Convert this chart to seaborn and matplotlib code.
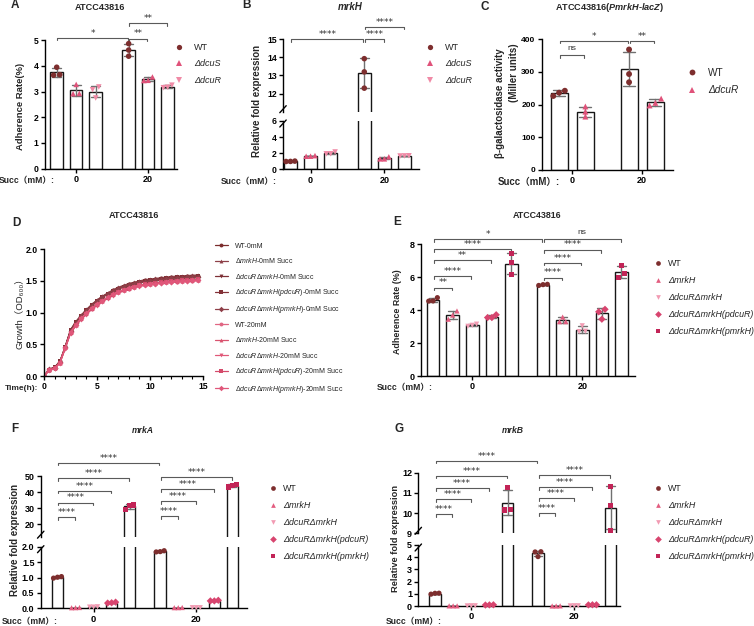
import numpy as np
import pandas as pd
import matplotlib
matplotlib.use("Agg")
import matplotlib.pyplot as plt
from matplotlib.lines import Line2D
from matplotlib.ticker import MultipleLocator
from matplotlib.transforms import blended_transform_factory
import seaborn as sns

sns.set_theme(style="ticks")
plt.rcParams["font.family"] = ["Liberation Sans", "Noto Sans CJK SC", "DejaVu Sans"]
plt.rcParams["mathtext.fontset"] = "custom"
plt.rcParams["mathtext.rm"] = "Liberation Sans"
plt.rcParams["mathtext.it"] = "Liberation Sans:italic"
plt.rcParams["mathtext.bf"] = "Liberation Sans:bold"
try:
    plt.rcParams["mathtext.bfit"] = "Liberation Sans:bold:italic"
    BFIT = True
except KeyError:
    BFIT = False

# ---------------------------------------------------------------- data
succ_levels = ["0", "20"]

# Panel A  (three replicates at 0 mM, then three at 20 mM)
strains_A = ["WT", "ΔdcuS", "ΔdcuR"]
A_WT = [3.66, 3.95, 3.64, 4.62, 4.87, 4.38]
A_dcuS = [2.92, 3.28, 2.93, 3.44, 3.57, 3.43]
A_dcuR = [3.18, 2.75, 3.07, 3.17, 3.25, 3.15]

# Panel B  (mrkH relative expression)
strains_B = ["WT", "ΔdcuS", "ΔdcuR"]
B_WT = [0.98, 1.02, 0.97, 13.20, 13.93, 12.30]
B_dcuS = [1.62, 1.70, 1.63, 1.30, 1.55, 1.30]
B_dcuR = [1.92, 2.15, 1.93, 1.65, 1.68, 1.66]

# Panel C  (beta-galactosidase, Miller units)
strains_C = ["WT", "ΔdcuR"]
C_WT = [242.0, 226.0, 236.0, 293.0, 368.0, 268.0]
C_dcuR = [178.0, 194.0, 163.0, 197.0, 218.0, 205.0]

# Panel D  (growth curves, OD600)
time_h = [0, 0.5, 1, 1.5, 2, 2.5, 3, 3.5, 4, 4.5, 5, 5.5, 6, 6.5, 7, 7.5,
          8, 8.5, 9, 9.5, 10, 10.5, 11, 11.5, 12, 12.5, 13, 13.5, 14, 14.5]
D_WT_0 = [0.00, 0.10, 0.13, 0.22, 0.46, 0.72, 0.85, 0.95, 1.04, 1.12, 1.19, 1.25, 1.30, 1.35, 1.39,
          1.42, 1.45, 1.47, 1.49, 1.51, 1.52, 1.53, 1.54, 1.55, 1.56, 1.565, 1.57, 1.575, 1.58, 1.585]
D_mrkH_0 = [0.00, 0.11, 0.14, 0.23, 0.47, 0.73, 0.86, 0.96, 1.05, 1.13, 1.20, 1.26, 1.31, 1.36, 1.40,
            1.43, 1.46, 1.48, 1.50, 1.52, 1.53, 1.54, 1.55, 1.56, 1.57, 1.575, 1.58, 1.585, 1.59, 1.595]
D_dm_0 = [0.00, 0.10, 0.13, 0.22, 0.45, 0.71, 0.84, 0.94, 1.03, 1.11, 1.18, 1.24, 1.29, 1.33, 1.37,
          1.40, 1.43, 1.45, 1.47, 1.48, 1.49, 1.50, 1.51, 1.52, 1.525, 1.53, 1.535, 1.54, 1.545, 1.55]
D_pdcuR_0 = [0.00, 0.10, 0.14, 0.23, 0.46, 0.72, 0.85, 0.95, 1.04, 1.12, 1.19, 1.25, 1.30, 1.34, 1.38,
             1.41, 1.44, 1.46, 1.48, 1.50, 1.51, 1.52, 1.53, 1.54, 1.55, 1.555, 1.56, 1.565, 1.57, 1.575]
D_pmrkH_0 = [0.00, 0.11, 0.13, 0.22, 0.45, 0.71, 0.84, 0.94, 1.03, 1.11, 1.18, 1.24, 1.29, 1.34, 1.38,
             1.41, 1.44, 1.46, 1.48, 1.49, 1.50, 1.51, 1.52, 1.53, 1.54, 1.545, 1.55, 1.555, 1.56, 1.565]
D_WT_20 = [0.00, 0.09, 0.12, 0.21, 0.44, 0.68, 0.80, 0.90, 0.98, 1.06, 1.12, 1.18, 1.23, 1.28, 1.32,
           1.35, 1.38, 1.40, 1.42, 1.44, 1.45, 1.46, 1.47, 1.48, 1.485, 1.49, 1.495, 1.50, 1.505, 1.51]
D_mrkH_20 = [0.00, 0.10, 0.12, 0.21, 0.45, 0.69, 0.81, 0.91, 0.99, 1.07, 1.13, 1.19, 1.24, 1.29, 1.33,
             1.36, 1.39, 1.41, 1.43, 1.45, 1.46, 1.47, 1.48, 1.49, 1.495, 1.50, 1.505, 1.51, 1.515, 1.52]
D_dm_20 = [0.00, 0.09, 0.12, 0.20, 0.43, 0.67, 0.79, 0.89, 0.97, 1.05, 1.11, 1.17, 1.22, 1.27, 1.31,
           1.34, 1.37, 1.39, 1.41, 1.43, 1.44, 1.45, 1.46, 1.47, 1.475, 1.48, 1.485, 1.49, 1.495, 1.50]
D_pdcuR_20 = [0.00, 0.10, 0.13, 0.21, 0.44, 0.68, 0.80, 0.90, 0.98, 1.06, 1.12, 1.18, 1.23, 1.28, 1.32,
              1.35, 1.38, 1.41, 1.43, 1.45, 1.46, 1.47, 1.48, 1.49, 1.50, 1.505, 1.51, 1.515, 1.52, 1.525]
D_pmrkH_20 = [0.00, 0.09, 0.12, 0.21, 0.44, 0.69, 0.81, 0.91, 0.99, 1.07, 1.13, 1.19, 1.24, 1.29, 1.33,
              1.36, 1.39, 1.41, 1.43, 1.44, 1.45, 1.46, 1.47, 1.48, 1.49, 1.495, 1.50, 1.505, 1.51, 1.515]
D_series = ["WT-0mM", "ΔmrkH-0mM", "ΔdcuRΔmrkH-0mM", "ΔdcuRΔmrkH(pdcuR)-0mM", "ΔdcuRΔmrkH(pmrkH)-0mM",
            "WT-20mM", "ΔmrkH-20mM", "ΔdcuRΔmrkH-20mM", "ΔdcuRΔmrkH(pdcuR)-20mM", "ΔdcuRΔmrkH(pmrkH)-20mM"]
D_values = [D_WT_0, D_mrkH_0, D_dm_0, D_pdcuR_0, D_pmrkH_0,
            D_WT_20, D_mrkH_20, D_dm_20, D_pdcuR_20, D_pmrkH_20]
D_labels = ["WT-0mM",
            r"$\mathit{\Delta mrkH}$-0mM Succ",
            r"$\mathit{\Delta dcuR\Delta mrkH}$-0mM Succ",
            r"$\mathit{\Delta dcuR\Delta mrkH(pdcuR)}$-0mM Succ",
            r"$\mathit{\Delta dcuR\Delta mrkH(pmrkH)}$-0mM Succ",
            "WT-20mM",
            r"$\mathit{\Delta mrkH}$-20mM Succ",
            r"$\mathit{\Delta dcuR\Delta mrkH}$-20mM Succ",
            r"$\mathit{\Delta dcuR\Delta mrkH(pdcuR)}$-20mM Succ",
            r"$\mathit{\Delta dcuR\Delta mrkH(pmrkH)}$-20mM Succ"]

# Panels E, F, G
strains_E = ["WT", "ΔmrkH", "ΔdcuRΔmrkH", "ΔdcuRΔmrkH(pdcuR)", "ΔdcuRΔmrkH(pmrkH)"]
E_WT = [4.55, 4.76, 4.56, 5.50, 5.55, 5.57]
E_mrkH = [3.45, 3.95, 3.70, 3.30, 3.58, 3.30]
E_dm = [3.02, 3.15, 3.08, 2.72, 3.05, 2.70]
E_pdcuR = [3.55, 3.72, 3.55, 3.45, 4.05, 3.90]
E_pmrkH = [6.15, 7.45, 6.90, 6.00, 6.70, 6.25]

F_WT = [0.98, 1.03, 1.01, 1.83, 1.87, 1.84]
F_mrkH = [0.02, 0.025, 0.018, 0.02, 0.02, 0.025]
F_dm = [0.04, 0.05, 0.04, 0.02, 0.02, 0.02]
F_pdcuR = [0.17, 0.20, 0.18, 0.24, 0.26, 0.24]
F_pmrkH = [32.0, 29.4, 31.9, 43.2, 44.8, 44.0]

G_WT = [0.97, 1.05, 1.04, 4.45, 4.05, 4.43]
G_mrkH = [0.01, 0.01, 0.01, 0.00, 0.01, 0.00]
G_dm = [0.02, 0.01, 0.02, 0.02, 0.01, 0.02]
G_pdcuR = [0.08, 0.10, 0.09, 0.09, 0.10, 0.10]
G_pmrkH = [10.15, 11.25, 10.17, 10.37, 11.30, 9.15]

# ---------------------------------------------------------------- styles
COL_WT = "#7d2e2e"
pal_AB = {"WT": COL_WT, "ΔdcuS": "#e0527a", "ΔdcuR": "#f08aa6"}
mk_AB = {"WT": "o", "ΔdcuS": "^", "ΔdcuR": "v"}
pal_C = {"WT": COL_WT, "ΔdcuR": "#e0527a"}
mk_C = {"WT": "o", "ΔdcuR": "^"}
pal_E = {"WT": COL_WT, "ΔmrkH": "#e35d80", "ΔdcuRΔmrkH": "#f29bb3",
         "ΔdcuRΔmrkH(pdcuR)": "#d8456f", "ΔdcuRΔmrkH(pmrkH)": "#c22457"}
mk_E = {"WT": "o", "ΔmrkH": "^", "ΔdcuRΔmrkH": "v",
        "ΔdcuRΔmrkH(pdcuR)": "D", "ΔdcuRΔmrkH(pmrkH)": "s"}
pal_D = dict(zip(D_series, ["#7b2c2c", "#8e4048", "#7d2f35", "#833238", "#8e3f48",
                            "#e06683", "#d9536f", "#e05878", "#d44a6a", "#e0577a"]))
mk_D = dict(zip(D_series, ["o", "^", "v", "s", "D", "o", "^", "v", "s", "D"]))

SPREAD = {1: [0.0], 2: [-0.16, 0.16], 3: [-0.22, 0.0, 0.22]}
W, H = 754, 626
fig = plt.figure(figsize=(W / 100, H / 100), dpi=100)


def fx(x):
    return x / W


def fy(y):
    return 1 - y / H


def add_ax(x0, y0, x1, y1):
    return fig.add_axes([x0 / W, 1 - y1 / H, (x1 - x0) / W, (y1 - y0) / H])


def ftext(x, y, s, **kw):
    kw.setdefault("ha", "center")
    kw.setdefault("va", "center")
    return fig.text(fx(x), fy(y), s, **kw)


def long_df(strains, table, stride):
    rows = []
    for si, st in enumerate(strains):
        vals = table[si]
        for gi, g in enumerate(succ_levels):
            for r in range(3):
                rows.append(dict(strain=st, succ=g, rep=r, value=float(vals[gi * 3 + r]),
                                 pos=float(gi * stride + si)))
    df = pd.DataFrame(rows)
    df["pos"] = df["pos"].astype(float)
    df["value"] = df["value"].astype(float)
    return df


def swarm_x(df, ppu, thr=4.5):
    """Spread replicate points sideways only where they would overlap."""
    xj = pd.Series(df["pos"].values.copy(), index=df.index, dtype=float)
    for pos, grp in df.groupby("pos"):
        idx = list(grp.index)
        vals = grp["value"].values
        order = list(np.argsort(vals))
        clusters = [[order[0]]]
        for o in order[1:]:
            if (vals[o] - vals[clusters[-1][-1]]) * ppu < thr:
                clusters[-1].append(o)
            else:
                clusters.append([o])
        for c in clusters:
            offs = SPREAD[len(c)]
            for j, o in enumerate(c):
                xj[idx[o]] = pos + offs[j]
    return xj


def style_axes(ax, tick_fs):
    for sp in ["top", "right"]:
        ax.spines[sp].set_visible(False)
    for sp in ["left", "bottom"]:
        ax.spines[sp].set_linewidth(1.0)
        ax.spines[sp].set_color("black")
    ax.tick_params(axis="both", direction="out", length=3, width=1.0, color="black",
                   pad=1.5, labelsize=tick_fs, labelcolor="black")
    for t in ax.get_xticklabels() + ax.get_yticklabels():
        t.set_fontweight("bold")
    ax.set_xlabel("")
    ax.set_ylabel("")
    ax.patch.set_alpha(0)


def bar_panel(df, parts, xlim, stride, n, palette, markers, s, width, tick_fs, xt_fs):
    axes = []
    for k, (rect, ylim, yticks, ylabels) in enumerate(parts):
        ax = add_ax(*rect)
        sns.barplot(data=df, x="pos", y="value", native_scale=True, orient="x",
                    errorbar="sd", width=width, color="white", capsize=0.45,
                    err_kws={"color": "#707070", "linewidth": 1.0}, ax=ax)
        for p in ax.patches:
            p.set_edgecolor("#161616")
            p.set_linewidth(1.0)
            p.set_facecolor("white")
        ppu = (rect[3] - rect[1]) / (ylim[1] - ylim[0])
        pts = df.copy()
        pts["xj"] = swarm_x(pts, ppu)
        sub = pts[(pts["value"] >= ylim[0]) & (pts["value"] <= ylim[1])]
        sns.scatterplot(data=sub, x="xj", y="value", hue="strain", style="strain",
                        palette=palette, markers=markers, s=s, linewidth=0,
                        legend=False, ax=ax, zorder=5, clip_on=False)
        ax.set_xlim(*xlim)
        ax.set_ylim(*ylim)
        ax.set_yticks(yticks)
        ax.set_yticklabels(ylabels)
        last = k == len(parts) - 1
        if last:
            ax.set_xticks([(n - 1) / 2, stride + (n - 1) / 2])
            ax.set_xticklabels(succ_levels)
        else:
            ax.spines["bottom"].set_visible(False)
            ax.tick_params(axis="x", bottom=False, labelbottom=False)
        style_axes(ax, tick_fs)
        if last:
            for t in ax.get_xticklabels():
                t.set_fontsize(xt_fs)
        axes.append(ax)
    return axes


def break_marks(xpx, y_up, y_low):
    for yc in (y_up - 2.5, y_low + 2.5):
        fig.add_artist(Line2D([fx(xpx - 3.2), fx(xpx + 3.2)], [fy(yc + 3.5), fy(yc - 3.5)],
                              transform=fig.transFigure, color="black", lw=1.0))


def bracket(ax, x1, x2, yline, ytext, label, fs=6.5):
    tr = blended_transform_factory(ax.transData, fig.transFigure)
    ax.plot([x1, x1, x2, x2], [fy(yline + 2.5), fy(yline), fy(yline), fy(yline + 2.5)],
            transform=tr, color="#5a5a5a", lw=0.8, clip_on=False)
    fpx = fs * 100 / 72
    if label == "ns":
        ax.text((x1 + x2) / 2, fy(ytext + 0.27 * fpx), "ns", transform=tr, ha="center",
                va="baseline", fontsize=fs - 0.5, color="#333333")
    else:
        ax.text((x1 + x2) / 2, fy(ytext + 0.6 * fpx), label, transform=tr, ha="center",
                va="baseline", fontsize=fs, family="DejaVu Sans", color="#333333")


def add_brackets(ax, specs, stride, fs=6.5):
    for (s1, g1, s2, g2, lab, yl, yt) in specs:
        x1 = g1 * stride + s1 + 0.04
        x2 = g2 * stride + s2 - 0.04
        bracket(ax, x1, x2, yl, yt, lab, fs)


def make_legend(ax, labels, colors, markers, ms, fs, marker_x, text_x, y_center, pitch,
                italic=None, line=False, hl=1.0, x_left=None, text_em=0.95):
    fpx = fs * 100 / 72
    if x_left is None:
        x_left = marker_x - hl * fpx / 2
        htp = (text_x - marker_x) / fpx - hl / 2
    else:
        htp = (text_x - (x_left + hl * fpx)) / fpx
    handles = []
    for c, m in zip(colors, markers):
        handles.append(Line2D([], [], color=c, marker=m, markersize=ms, markeredgewidth=0,
                              lw=0.9 if line else 0, linestyle="-" if line else "none"))
    leg = ax.legend(handles, labels, loc="center left",
                    bbox_to_anchor=(fx(x_left), fy(y_center)), bbox_transform=fig.transFigure,
                    frameon=False, fontsize=fs, handlelength=hl, handletextpad=htp,
                    labelspacing=pitch / fpx - text_em, borderpad=0, borderaxespad=0)
    if italic:
        for t, it in zip(leg.get_texts(), italic):
            if it:
                t.set_fontstyle("italic")
    return leg


# ---------------------------------------------------------------- panel A
stA = 3.69
dfA = long_df(strains_A, [A_WT, A_dcuS, A_dcuR], stA)
axA = bar_panel(dfA, [((45, 40.3, 177, 168.5), (0, 5), [0, 1, 2, 3, 4, 5],
                       ["0", "1", "2", "3", "4", "5"])],
                (-0.6, 6.17), stA, 3, pal_AB, mk_AB, 16, 0.64, 6.2, 6.5)[0]
add_brackets(axA, [(0, 0, 0, 1, "*", 37.7, 30.7), (0, 1, 1, 1, "**", 38.5, 30.7),
                   (0, 1, 2, 1, "**", 23.3, 15.7)], stA)
make_legend(axA, strains_A, [pal_AB[s] for s in strains_A], [mk_AB[s] for s in strains_A],
            3.8, 6.5, 179, 194, 64, 16, italic=[False, True, True])
ftext(21, 106, "Adherence Rate(%)", rotation=90, fontsize=6.8, fontweight="bold")
ftext(100, 8, "ATCC43816", fontsize=6.6, fontweight="bold")
ftext(14.5, 5.5, "A", fontsize=8.5, fontweight="bold")
ftext(55, 181, "Succ（mM）:", ha="right", fontsize=6.2, fontweight="bold")

# ---------------------------------------------------------------- panel B
stB = 3.67
dfB = long_df(strains_B, [B_WT, B_dcuS, B_dcuR], stB)
axB_up, axB_lo = bar_panel(
    dfB,
    [((283, 39.3, 419, 111.7), (11, 15), [12, 13, 14, 15], ["12", "13", "14", "15"]),
     ((283, 121.0, 419, 169.3), (0, 6), [0, 2, 4, 6], ["0", "2", "4", "6"])],
    (-0.37, 6.39), stB, 3, pal_AB, mk_AB, 16, 0.63, 6.2, 6.5)
break_marks(283, 111.7, 121.0)
add_brackets(axB_up, [(0, 0, 0, 1, "****", 39.3, 31.7), (0, 1, 1, 1, "****", 39.3, 31.7),
                      (0, 1, 2, 1, "****", 26.7, 19.3)], stB)
make_legend(axB_up, strains_B, [pal_AB[s] for s in strains_B], [mk_AB[s] for s in strains_B],
            3.8, 6.5, 430, 445, 64, 16, italic=[False, True, True])
ftext(257, 101, "Relative fold expression", rotation=90, fontsize=7, fontweight="bold")
ftext(350, 7.5, "mrkH", fontsize=7, fontweight="bold", fontstyle="italic")
ftext(246, 5.5, "B", fontsize=8.5, fontweight="bold")
ftext(277, 181.7, "Succ（mM）:", ha="right", fontsize=6.2, fontweight="bold")

# ---------------------------------------------------------------- panel C
stC = 2.66
dfC = long_df(strains_C, [C_WT, C_dcuR], stC)
axC = bar_panel(dfC, [((541.7, 39, 673, 170), (0, 400), [0, 100, 200, 300, 400],
                       ["0", "100", "200", "300", "400"])],
                (-0.66, 4.33), stC, 2, pal_C, mk_C, 18, 0.65, 6.0, 6.5)[0]
add_brackets(axC, [(0, 0, 1, 0, "ns", 55, 47.7), (0, 0, 0, 1, "*", 40.7, 33.3),
                   (0, 1, 1, 1, "**", 40.7, 33.3)], stC)
make_legend(axC, strains_C, [pal_C[s] for s in strains_C], [mk_C[s] for s in strains_C],
            4.2, 7.2, 691.7, 708, 81.5, 17, italic=[False, True])
ftext(500, 103.5, "β-galactosidase activity", rotation=90, fontsize=7, fontweight="bold")
ftext(514, 73, "(Miller units)", rotation=90, fontsize=7, fontweight="bold")
if BFIT:
    titleC = r"ATCC43816($\mathbfit{PmrkH}$-$\mathbfit{lacZ}$)"
else:
    titleC = r"ATCC43816($\mathit{PmrkH}$-$\mathit{lacZ}$)"
ftext(610, 7.5, titleC, fontsize=6.6, fontweight="bold")
ftext(485, 6.5, "C", fontsize=8.5, fontweight="bold")
ftext(560, 182.3, "Succ（mM）:", ha="right", fontsize=6.9, fontweight="bold")

# ---------------------------------------------------------------- panel D
rowsD = []
for name, vals in zip(D_series, D_values):
    for t, v in zip(time_h, vals):
        rowsD.append(dict(series=name, time=float(t), od=float(v)))
dfD = pd.DataFrame(rowsD)
axD = add_ax(44, 249.3, 203, 376)
sns.lineplot(data=dfD, x="time", y="od", hue="series", style="series",
             hue_order=D_series, style_order=D_series, palette=pal_D, markers=mk_D,
             dashes=False, markersize=3.0, markeredgewidth=0, linewidth=0.9,
             errorbar=None, legend=False, ax=axD)
axD.set_xlim(0, 15)
axD.set_ylim(0, 2)
axD.set_xticks([0, 5, 10, 15])
axD.set_xticklabels(["0", "5", "10", "15"])
axD.xaxis.set_minor_locator(MultipleLocator(1))
axD.set_yticks([0, 0.5, 1.0, 1.5, 2.0])
axD.set_yticklabels(["0.0", "0.5", "1.0", "1.5", "2.0"])
style_axes(axD, 6.2)
axD.tick_params(axis="x", which="minor", direction="out", length=2, width=0.8, color="black")
make_legend(axD, D_labels, [pal_D[s] for s in D_series], [mk_D[s] for s in D_series],
            2.8, 5, None, 235, 318.7, 13, line=True, hl=1.87, x_left=215)
ftext(19.5, 311, "Growth（OD₆₀₀）", rotation=90, fontsize=6.8)
ftext(134, 216, "ATCC43816", fontsize=6.6, fontweight="bold")
ftext(16, 222.7, "D", fontsize=8.5, fontweight="bold")
ftext(38, 388.3, "Time(h):", ha="right", fontsize=6, fontweight="bold")

# ---------------------------------------------------------------- panel E
stE = 5.61
dfE = long_df(strains_E, [E_WT, E_mrkH, E_dm, E_pdcuR, E_pmrkH], stE)
axE = bar_panel(dfE, [((420.7, 244.3, 635, 376), (0, 8), [0, 2, 4, 6, 8],
                       ["0", "2", "4", "6", "8"])],
                (-0.63, 10.3), stE, 5, pal_E, mk_E, 14, 0.64, 6.5, 6.5)[0]
add_brackets(axE, [(0, 0, 0, 1, "*", 239.3, 231.7), (0, 1, 4, 1, "ns", 239.3, 231.7),
                   (0, 0, 4, 0, "****", 249.3, 241.7), (0, 1, 3, 1, "****", 250.3, 242),
                   (0, 0, 3, 0, "**", 260, 252.7), (0, 1, 2, 1, "****", 262.7, 255.3),
                   (0, 0, 2, 0, "****", 276, 268.3), (0, 1, 1, 1, "****", 277.7, 270),
                   (0, 0, 1, 0, "**", 287.7, 280)], stE)
make_legend(axE, strains_E, [pal_E[s] for s in strains_E], [mk_E[s] for s in strains_E],
            3.4, 6.4, 658, 668, 297.5, 16.25, italic=[False, True, True, True, True])
ftext(397.5, 311.7, "Adherence Rate (%)", rotation=90, fontsize=6.4, fontweight="bold")
ftext(536.7, 215, "ATCC43816", fontsize=6.4, fontweight="bold")
ftext(397, 221.7, "E", fontsize=8.5, fontweight="bold")
ftext(433, 387.3, "Succ（mM）:", ha="right", fontsize=6.2, fontweight="bold")

# ---------------------------------------------------------------- panel F
stF = 5.69
dfF = long_df(strains_E, [F_WT, F_mrkH, F_dm, F_pdcuR, F_pmrkH], stF)
axF_up, axF_lo = bar_panel(
    dfF,
    [((40.7, 476, 247, 537.2), (12, 50), [20, 30, 40, 50], ["20", "30", "40", "50"]),
     ((40.7, 546.7, 247, 608.3), (0, 2), [0, 0.5, 1.0, 1.5, 2.0],
      ["0.0", "0.5", "1.0", "1.5", "2.0"])],
    (-0.93, 10.5), stF, 5, pal_E, mk_E, 14, 0.64, 6.5, 6.8)
break_marks(40.7, 537.2, 546.7)
add_brackets(axF_up, [(0, 0, 0, 1, "****", 462.7, 455.7),
                      (0, 0, 4, 0, "****", 478.3, 470.7), (0, 1, 4, 1, "****", 477.3, 469.3),
                      (0, 0, 3, 0, "****", 490.7, 483.3), (0, 1, 3, 1, "****", 489.3, 482),
                      (0, 0, 2, 0, "****", 502.7, 495), (0, 1, 2, 1, "****", 501, 494),
                      (0, 0, 1, 0, "****", 517.3, 509.3), (0, 1, 1, 1, "****", 516, 508.3)], stF)
make_legend(axF_up, strains_E, [pal_E[s] for s in strains_E], [mk_E[s] for s in strains_E],
            3.4, 6.4, 273.3, 283.3, 522.9, 16.4, italic=[False, True, True, True, True])
ftext(15, 540, "Relative fold expression", rotation=90, fontsize=7, fontweight="bold")
ftext(143, 430.7, "mrkA", fontsize=6.2, fontweight="bold", fontstyle="italic")
ftext(15, 429.3, "F", fontsize=8.5, fontweight="bold")
ftext(58, 621.7, "Succ（mM）:", ha="right", fontsize=6.2, fontweight="bold")

# ---------------------------------------------------------------- panel G
stG = 5.68
dfG = long_df(strains_E, [G_WT, G_mrkH, G_dm, G_pdcuR, G_pmrkH], stG)
axG_up, axG_lo = bar_panel(
    dfG,
    [((418.3, 472.7, 620, 533.3), (9, 12), [9, 10, 11, 12], ["9", "10", "11", "12"]),
     ((418.3, 545, 620, 606), (0, 5), [0, 1, 2, 3, 4, 5], ["0", "1", "2", "3", "4", "5"])],
    (-0.92, 10.2), stG, 5, pal_E, mk_E, 14, 0.64, 6.5, 6.8)
break_marks(418.3, 533.3, 545)
add_brackets(axG_up, [(0, 0, 0, 1, "****", 460.7, 453.3),
                      (0, 0, 4, 0, "****", 475.7, 468.3), (0, 1, 4, 1, "****", 475, 467.3),
                      (0, 0, 3, 0, "****", 488.3, 480.7), (0, 1, 3, 1, "****", 487.3, 479.3),
                      (0, 0, 2, 0, "****", 499.3, 491.7), (0, 1, 2, 1, "****", 498.3, 490.7),
                      (0, 0, 1, 0, "****", 514.3, 506.7), (0, 1, 1, 1, "****", 513.3, 505.7)], stG)
make_legend(axG_up, strains_E, [pal_E[s] for s in strains_E], [mk_E[s] for s in strains_E],
            3.4, 6.4, 658.3, 668.3, 522.9, 16.4, italic=[False, True, True, True, True])
ftext(395, 538.5, "Relative fold expression", rotation=90, fontsize=6.7, fontweight="bold")
ftext(513.3, 430.7, "mrkB", fontsize=6.2, fontweight="bold", fontstyle="italic")
ftext(399, 429.3, "G", fontsize=8.5, fontweight="bold")
ftext(441.7, 621.7, "Succ（mM）:", ha="right", fontsize=6.2, fontweight="bold")

fig.savefig("out.png", dpi=100)
